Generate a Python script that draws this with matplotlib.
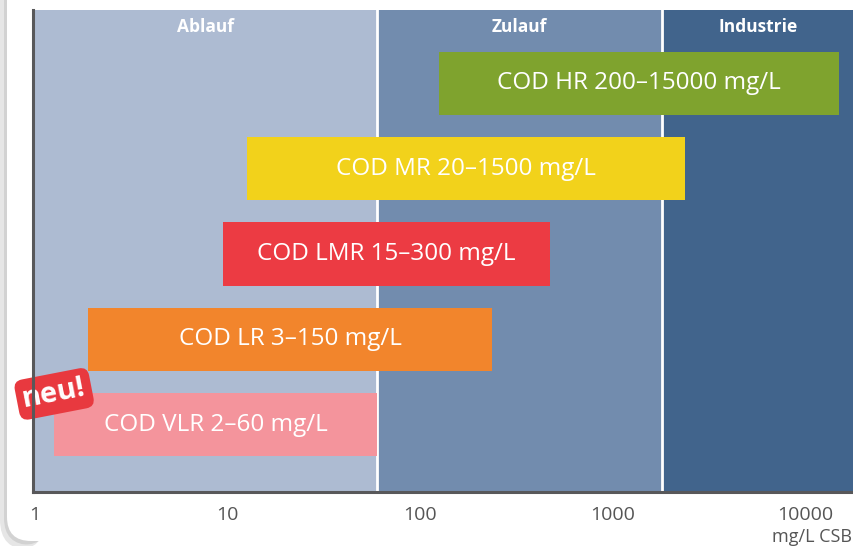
import matplotlib
matplotlib.use('Agg')
import matplotlib.pyplot as plt
import matplotlib.transforms as mtransforms
from matplotlib.patches import FancyBboxPatch

# Messbereiche der CSB-Küvettentests (mg/L CSB)
tests = ['COD VLR', 'COD LR', 'COD LMR', 'COD MR', 'COD HR']
range_lo = [2, 3, 15, 20, 200]
range_hi = [60, 150, 300, 1500, 15000]
bar_colors = ['#f4949c', '#f2852c', '#ec3b43', '#f2d21b', '#7fa32e']
pad_right = [False, True, True, True, False]

# Anwendungsbereiche im Hintergrund
zones = ['Ablauf', 'Zulauf', 'Industrie']
zone_lo = [0.98, 60, 1800]
zone_hi = [60, 1800, 17900]
zone_colors = ['#adbbd2', '#728cae', '#41648c']

ticks = [1, 10, 100, 1000, 10000]
tick_labels = ['1', '10', '100', '1000', '10000']

pad = 10 ** 0.2   # Balken etwas breiter als der Messbereich
axis_grey = '#58585a'

plt.rcParams['font.family'] = ['Open Sans', 'DejaVu Sans']

fig = plt.figure(figsize=(8.54, 5.46), dpi=100)

# Kartenrahmen mit Schatten links unten
px = mtransforms.IdentityTransform()
fig.patches.append(FancyBboxPatch((0, -4), 45, 700, boxstyle='round,pad=0,rounding_size=30',
                                  transform=px, fc='#e6e6e6', ec='none', zorder=-3))
fig.patches.append(FancyBboxPatch((4, 1), 45, 700, boxstyle='round,pad=0,rounding_size=27',
                                  transform=px, fc='#d2d2d2', ec='none', zorder=-2))
fig.patches.append(FancyBboxPatch((7, 5), 1000, 700, boxstyle='round,pad=0,rounding_size=24',
                                  transform=px, fc='white', ec='none', zorder=-1))

ax = fig.add_axes([33 / 854, 54 / 546, 1 - 33 / 854, 482 / 546])
ax.set_xscale('log')
ax.set_xlim(zone_lo[0], zone_hi[-1])
ax.set_ylim(-0.79, 4.86)

for lo, hi, c in zip(zone_lo, zone_hi, zone_colors):
    ax.axvspan(lo, hi, color=c, lw=0, zorder=0)
for b in zone_lo[1:]:
    ax.axvline(b, color='white', lw=2, zorder=1)

trans = mtransforms.blended_transform_factory(ax.transData, ax.transAxes)
for name, lo, hi in zip(zones, zone_lo, zone_hi):
    ax.text((lo * hi) ** 0.5, 0.965, name, transform=trans, ha='center', va='center',
            color='white', fontsize=12.5, fontweight='bold')

for i, (name, lo, hi, c, pr) in enumerate(zip(tests, range_lo, range_hi, bar_colors, pad_right)):
    left = lo / pad
    right = hi * pad if pr else hi
    ax.barh(i, right - left, left=left, height=0.74, color=c, lw=0, zorder=3)
    ax.text((left * right) ** 0.5, i, f'{name} {lo}–{hi} mg/L', ha='center', va='center',
            color='white', fontsize=17.5, zorder=4)

# "neu!"-Marke am VLR-Balken
ax.text(range_lo[0] / pad, 0.36, 'neu!', rotation=11, ha='center', va='center',
        color='white', fontsize=21, fontweight='bold', zorder=5, clip_on=False,
        bbox=dict(boxstyle='round,pad=0.2,rounding_size=0.3', fc='#e8393f', ec='none'))

ax.set_yticks([])
ax.set_xticks(ticks)
ax.set_xticklabels(tick_labels)
ax.xaxis.set_minor_locator(matplotlib.ticker.NullLocator())
ax.tick_params(axis='x', length=0, pad=10, labelsize=14, labelcolor='#555555')
for side in ['top', 'right']:
    ax.spines[side].set_visible(False)
for side in ['left', 'bottom']:
    ax.spines[side].set_color(axis_grey)
    ax.spines[side].set_linewidth(2.2)
    ax.spines[side].set_zorder(6)

fig.text(852 / 854, 1 - 537 / 546, 'mg/L CSB', ha='right', va='center',
         fontsize=13, color='#555555')

fig.savefig('out.png', dpi=100)
